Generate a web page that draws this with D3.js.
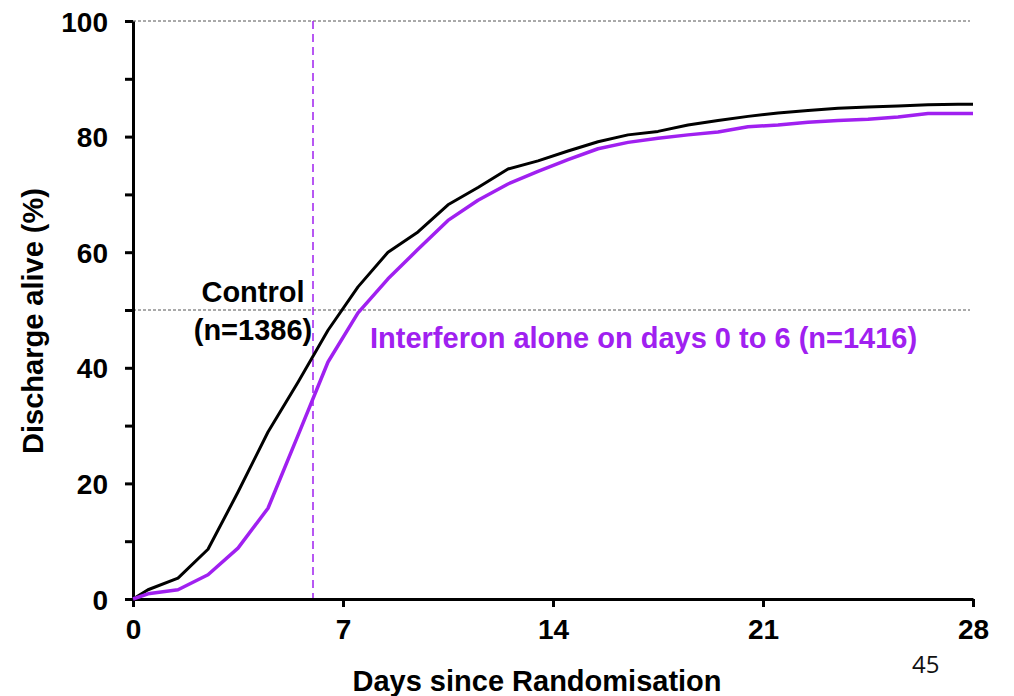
<!DOCTYPE html>
<html>
<head>
<meta charset="utf-8">
<script src="https://cdn.jsdelivr.net/npm/d3@7"></script>
<style>
  body { margin: 0; background: #fff; }
  text { font-family: "Liberation Sans", Arial, sans-serif; }
</style>
</head>
<body>
<script>
// days since randomisation where the curves bend
var days = [0, 0.5, 1.5, 2.5, 3.5, 4.5, 5.5, 6.5, 7.5, 8.5, 9.5, 10.5, 11.5, 12.5, 13.5,
  14.5, 15.5, 16.5, 17.5, 18.5, 19.5, 20.5, 21.5, 22.5, 23.5, 24.5, 25.5, 26.5, 27.5, 28]
var control = [0, 1.6, 3.6, 8.6, 18.5, 28.9, 37.5, 46.5, 54, 60, 63.5, 68.2, 71.2, 74.4, 75.8,
  77.5, 79.1, 80.3, 80.9, 82, 82.8, 83.5, 84.1, 84.5, 84.9, 85.1, 85.3, 85.5, 85.6, 85.6]
var interferon = [0, 0.9, 1.6, 4.2, 8.8, 15.7, 28.3, 41, 49.5, 55.4, 60.5, 65.5, 69, 71.8, 74,
  76, 77.9, 79, 79.7, 80.3, 80.8, 81.7, 82, 82.5, 82.8, 83, 83.4, 84, 84, 84]
var xTicks = [0, 7, 14, 21, 28]
var yTicks = [0, 10, 20, 30, 40, 50, 60, 70, 80, 90, 100]
var yLabels = [0, 20, 40, 60, 80, 100]
var refLines = [100, 50]
var treatEnd = 6

var width = 1014, height = 696
var purple = "#a020f0"

var x = d3.scaleLinear().domain([0, 28]).range([133, 973])
var y = d3.scaleLinear().domain([0, 100]).range([599, 21])

var svg = d3.select("body").append("svg")
    .attr("width", width)
    .attr("height", height)

// dashed reference lines at 100% and 50%
svg.selectAll(".ref")
  .data(refLines)
  .enter()
  .append("line")
    .attr("x1", x(0))
    .attr("x2", 970)
    .attr("y1", function(d) { return y(d) })
    .attr("y2", function(d) { return y(d) })
    .attr("stroke", "#555")
    .attr("stroke-width", 1)
    .attr("stroke-dasharray", "3,2")

// end of treatment marker
svg.append("line")
    .attr("x1", x(treatEnd)).attr("x2", x(treatEnd))
    .attr("y1", y(100)).attr("y2", y(0))
    .attr("stroke", purple)
    .attr("stroke-width", 1.5)
    .attr("stroke-dasharray", "8,5")

// axes
var yAxis = svg.append("g")
    .attr("transform", "translate(" + x(0) + ",0)")
    .call(d3.axisLeft(y).tickValues(yTicks).tickSize(8).tickSizeOuter(0)
      .tickFormat(function(d) { return yLabels.includes(d) ? d : "" }))
var xAxis = svg.append("g")
    .attr("transform", "translate(0," + y(0) + ")")
    .call(d3.axisBottom(x).tickValues(xTicks).tickSize(8).tickSizeOuter(0))

;[xAxis, yAxis].forEach(function(a) {
  a.select(".domain").attr("stroke", "#000").attr("stroke-width", 3)
  a.selectAll(".tick line").attr("stroke", "#000").attr("stroke-width", 3)
  a.selectAll(".tick text")
    .attr("fill", "#000")
    .style("font-size", "28px")
    .style("font-weight", "bold")
})
yAxis.selectAll(".tick text").attr("x", -25).attr("dy", "0.36em")
xAxis.selectAll(".tick text").attr("y", 20).attr("dy", "0.72em")

// curves
var line = d3.line()
    .x(function(d) { return x(d[0]) })
    .y(function(d) { return y(d[1]) })

var series = [
  {name: "control", color: "#000", width: 3, values: control},
  {name: "interferon", color: purple, width: 3.5, values: interferon}
]
series.forEach(function(s) {
  svg.append("path")
      .datum(days.map(function(d, i) { return [d, s.values[i]] }))
      .attr("fill", "none")
      .attr("stroke", s.color)
      .attr("stroke-width", s.width)
      .attr("stroke-linejoin", "round")
      .attr("d", line)
})

// labels
svg.append("text")
    .attr("x", 253).attr("y", 302)
    .attr("text-anchor", "middle")
    .style("font-size", "29px").style("font-weight", "bold")
    .text("Control")
svg.append("text")
    .attr("x", 253).attr("y", 340)
    .attr("text-anchor", "middle")
    .style("font-size", "29px").style("font-weight", "bold")
    .text("(n=1386)")
svg.append("text")
    .attr("x", 370).attr("y", 348)
    .attr("fill", purple)
    .style("font-size", "29px").style("font-weight", "bold")
    .text("Interferon alone on days 0 to 6 (n=1416)")

// axis titles
svg.append("text")
    .attr("text-anchor", "middle")
    .attr("x", 537).attr("y", 691)
    .style("font-size", "29px").style("font-weight", "bold")
    .text("Days since Randomisation")
svg.append("text")
    .attr("text-anchor", "middle")
    .attr("transform", "translate(43,321)rotate(-90)")
    .style("font-size", "29px").style("font-weight", "bold")
    .text("Discharge alive (%)")

// slide number
svg.append("text")
    .attr("x", 912).attr("y", 673)
    .style("font-size", "24px")
    .attr("fill", "#111")
    .style("font-family", "'Open Sans', sans-serif")
    .text("45")
</script>
</body>
</html>
